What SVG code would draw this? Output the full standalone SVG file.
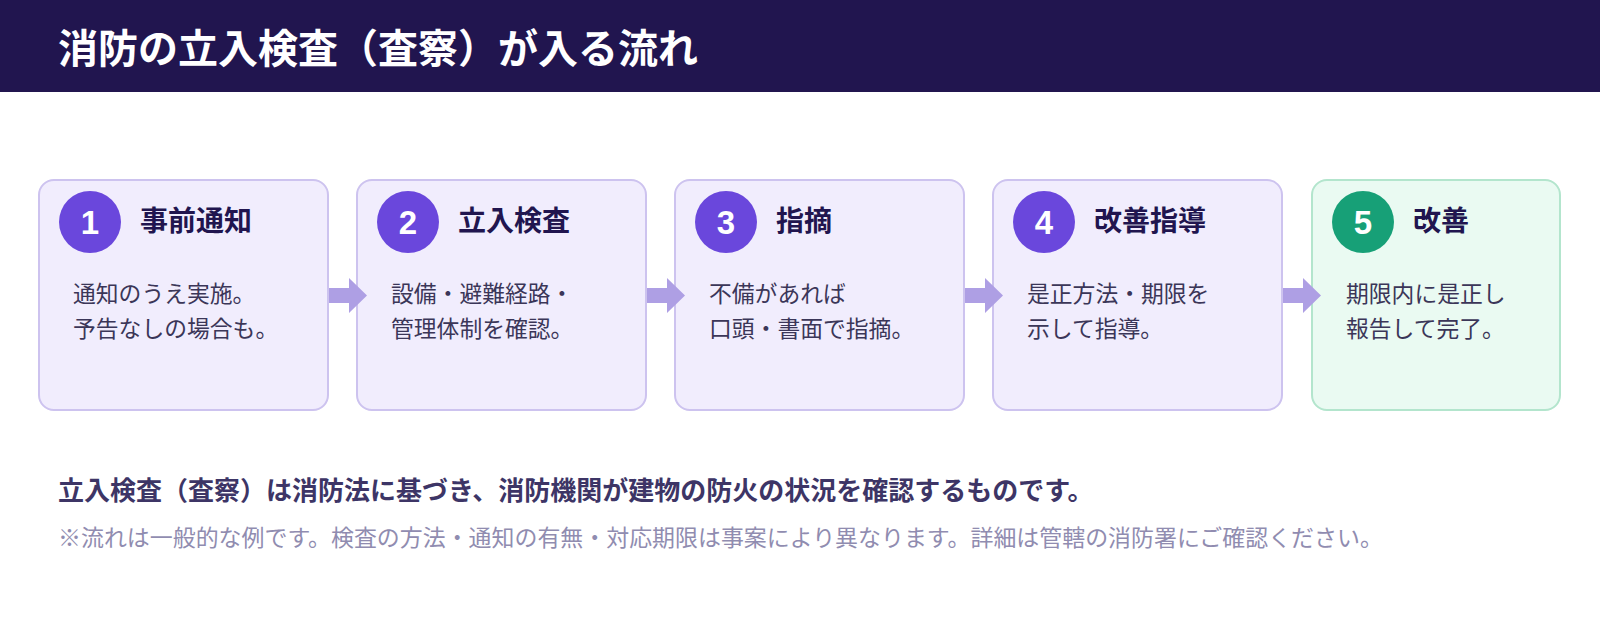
<svg xmlns="http://www.w3.org/2000/svg" width="1600" height="620" viewBox="0 0 1600 620">
<style>
.cjk{font-family:"Noto Sans CJK JP","Noto Sans CJK SC",sans-serif}
.hdr{fill:#21154f}
.htitle{fill:#ffffff;font-size:40px;font-weight:700}
.box{fill:#f1edfd;stroke:#cdc3ef;stroke-width:2}
.boxg{fill:#eafaf2;stroke:#b3e5cd;stroke-width:2}
.num{fill:#6a47dc}
.numg{fill:#17a077}
.numt{fill:#ffffff;font-family:"Liberation Sans",Arial,sans-serif;font-size:33px;font-weight:700;text-anchor:middle}
.ttl{fill:#21154f;font-size:28px;font-weight:700}
.body{fill:#3b3658;font-size:22.8px}
.arrow{fill:#ae9fe4}
.lead{fill:#3d3566;font-size:26px;font-weight:700}
.note{fill:#908cb0;font-size:22.95px}
</style>
<rect width="1600" height="620" fill="#ffffff"/>
<g id="header">
<rect class="hdr" x="0" y="0" width="1600" height="92"/>
<text class="cjk htitle" x="58" y="63">消防の立入検査（査察）が入る流れ</text>
</g>
<g id="step1">
<rect class="box" x="39" y="180" width="289" height="230" rx="15"/>
<circle class="num" cx="90" cy="222" r="31"/>
<text class="numt" x="90" y="234">1</text>
<text class="cjk ttl" x="140" y="231">事前通知</text>
<text class="cjk body" x="73" y="302">通知のうえ実施。</text>
<text class="cjk body" x="73" y="337">予告なしの場合も。</text>
</g>
<g id="step2">
<rect class="box" x="357" y="180" width="289" height="230" rx="15"/>
<circle class="num" cx="408" cy="222" r="31"/>
<text class="numt" x="408" y="234">2</text>
<text class="cjk ttl" x="458" y="231">立入検査</text>
<text class="cjk body" x="391" y="302">設備・避難経路・</text>
<text class="cjk body" x="391" y="337">管理体制を確認。</text>
</g>
<g id="step3">
<rect class="box" x="675" y="180" width="289" height="230" rx="15"/>
<circle class="num" cx="726" cy="222" r="31"/>
<text class="numt" x="726" y="234">3</text>
<text class="cjk ttl" x="776" y="231">指摘</text>
<text class="cjk body" x="709" y="302">不備があれば</text>
<text class="cjk body" x="709" y="337">口頭・書面で指摘。</text>
</g>
<g id="step4">
<rect class="box" x="993" y="180" width="289" height="230" rx="15"/>
<circle class="num" cx="1044" cy="222" r="31"/>
<text class="numt" x="1044" y="234">4</text>
<text class="cjk ttl" x="1094" y="231">改善指導</text>
<text class="cjk body" x="1027" y="302">是正方法・期限を</text>
<text class="cjk body" x="1027" y="337">示して指導。</text>
</g>
<g id="step5">
<rect class="boxg" x="1312" y="180" width="248" height="230" rx="15"/>
<circle class="numg" cx="1363" cy="222" r="31"/>
<text class="numt" x="1363" y="234">5</text>
<text class="cjk ttl" x="1413" y="231">改善</text>
<text class="cjk body" x="1346" y="302">期限内に是正し</text>
<text class="cjk body" x="1346" y="337">報告して完了。</text>
</g>
<g id="connectors">
<path class="arrow" d="M329 288H349V278L367 295.5L349 313V303H329Z"/>
<path class="arrow" d="M647 288H667V278L685 295.5L667 313V303H647Z"/>
<path class="arrow" d="M965 288H985V278L1003 295.5L985 313V303H965Z"/>
<path class="arrow" d="M1283 288H1303V278L1321 295.5L1303 313V303H1283Z"/>
</g>
<g id="footer">
<text class="cjk lead" x="58" y="500">立入検査（査察）は消防法に基づき、消防機関が建物の防火の状況を確認するものです。</text>
<text class="cjk note" x="58" y="546">※流れは一般的な例です。検査の方法・通知の有無・対応期限は事案により異なります。詳細は管轄の消防署にご確認ください。</text>
</g>
</svg>
